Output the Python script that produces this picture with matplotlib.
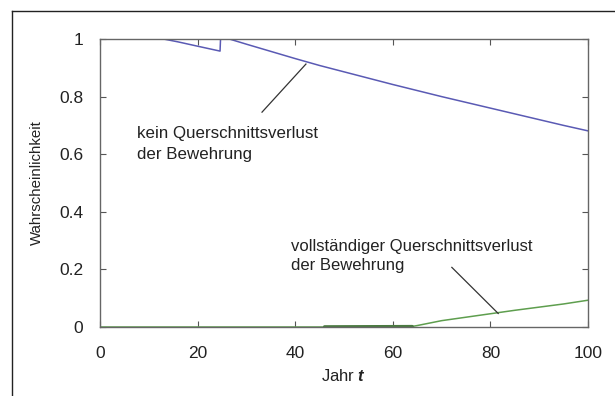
import matplotlib
matplotlib.use("Agg")
import matplotlib.pyplot as plt
from matplotlib.lines import Line2D

plt.rcParams['font.family'] = ['Liberation Sans', 'DejaVu Sans']
plt.rcParams['mathtext.fontset'] = 'custom'
plt.rcParams['mathtext.it'] = 'Liberation Sans:italic:bold'

# "kein Querschnittsverlust der Bewehrung"
t_intact = [0, 13, 16, 20, 24.6, 24.7, 25, 26.5, 30, 35, 40, 45, 50, 55, 60, 65, 70, 75, 80, 85, 90, 95, 100]
p_intact = [1.0, 1.0, 0.99, 0.975, 0.958, 1.0, 1.0, 1.0, 0.982, 0.957, 0.932, 0.908, 0.886, 0.864, 0.842, 0.821, 0.800, 0.780, 0.760, 0.740, 0.720, 0.700, 0.681]

# "vollständiger Querschnittsverlust der Bewehrung"
t_full = [0, 46, 55, 64, 65, 70, 75, 80, 85, 90, 95, 100]
p_full = [0.0, 0.0, 0.001, 0.002, 0.005, 0.022, 0.034, 0.046, 0.058, 0.069, 0.080, 0.093]
t_full_thick = [46, 64]
p_full_thick = [0.001, 0.002]

xticks = [0, 20, 40, 60, 80, 100]
yticks = [0, 0.2, 0.4, 0.6, 0.8, 1]
ytick_labels = ['0', '0.2', '0.4', '0.6', '0.8', '1']

fig = plt.figure(figsize=(6.15, 3.96), dpi=100)
ax = fig.add_axes([100/615, 1 - 327/396, 488/615, 288/396])

ax.plot(t_intact, p_intact, color='#5a5ab4', lw=1.1)
ax.plot(t_full, p_full, color='#5e9e4e', lw=1.1)
ax.plot(t_full_thick, p_full_thick, color='#4a7a40', lw=2.2, solid_capstyle='round')

ax.set_xlim(0, 100)
ax.set_ylim(0, 1)
ax.set_xticks(xticks)
ax.set_xticklabels([str(x) for x in xticks])
ax.set_yticks(yticks)
ax.set_yticklabels(ytick_labels)
ax.tick_params(direction='in', top=True, right=True, length=4, width=0.8,
               color='#555555', labelsize=12.5, labelcolor='#222222')
ax.tick_params(axis='x', pad=14)
ax.tick_params(axis='y', pad=12)
for s in ax.spines.values():
    s.set_color('#666666')
    s.set_linewidth(1.0)

ax.set_ylabel('Wahrscheinlichkeit', fontsize=10.8, color='#222222', labelpad=11)
ax.set_xlabel('Jahr $t$', fontsize=12, color='#222222', labelpad=5)

ax.text(7.6, 0.656, 'kein Querschnittsverlust', fontsize=12.2, color='#222222', ha='left', va='baseline')
ax.text(7.6, 0.583, 'der Bewehrung', fontsize=12.2, color='#222222', ha='left', va='baseline')
ax.plot([33.2, 42.2], [0.746, 0.913], color='#333333', lw=0.9)

ax.text(39.2, 0.264, 'vollständiger Querschnittsverlust', fontsize=12.0, color='#222222', ha='left', va='baseline')
ax.text(39.2, 0.198, 'der Bewehrung', fontsize=12.0, color='#222222', ha='left', va='baseline')
ax.plot([72.1, 81.6], [0.207, 0.047], color='#333333', lw=0.9)

# outer frame (left and top)
fig.add_artist(Line2D([12/615, 12/615], [0, 1 - 11/396], color='#222222', lw=1.0))
fig.add_artist(Line2D([12/615, 1], [1 - 11/396, 1 - 11/396], color='#222222', lw=1.0))

fig.savefig('out.png', dpi=100)
